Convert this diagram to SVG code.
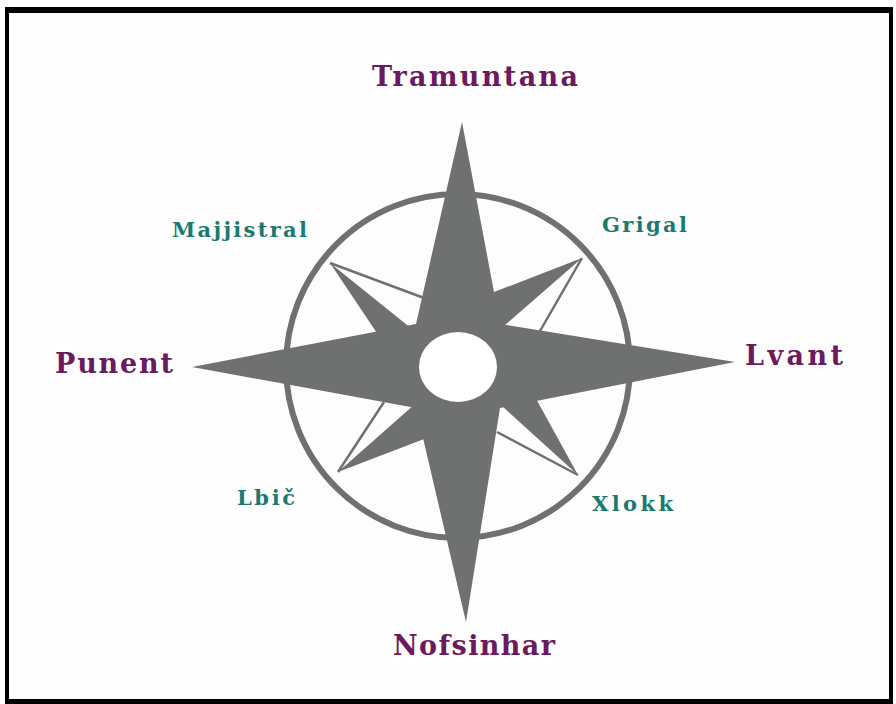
<svg xmlns="http://www.w3.org/2000/svg" width="896" height="704" viewBox="0 0 896 704">
<style>
.big{font-family:"DejaVu Serif","Liberation Serif",serif;font-weight:bold;font-size:27px;fill:#6b1a5e}
.small{font-family:"DejaVu Serif","Liberation Serif",serif;font-weight:bold;font-size:21px;fill:#1b7a70}
.g{fill:#6e7170}
.thin{stroke:#6e7170;stroke-width:2.5;fill:none}
</style>
<rect x="0" y="0" width="896" height="704" fill="#ffffff"/>
<rect x="5" y="7" width="888" height="697" fill="#000000"/>
<rect x="9" y="13" width="880" height="686" fill="#fdfdfd"/>
<g id="rose">
  <circle cx="458" cy="366" r="172" fill="none" stroke="#6e7170" stroke-width="6"/>
  <g id="diagonal-points">
    <polygon class="g" points="330,263 458,366 399,366"/>
    <polygon class="g" points="582,258 458,366 458,306"/>
    <polygon class="g" points="578,475 458,366 518,366"/>
    <polygon class="g" points="338,472 458,366 458,426"/>
  </g>
  <g id="connectors">
    <line class="thin" x1="330" y1="263" x2="424" y2="298"/>
    <line class="thin" x1="582" y1="258" x2="540" y2="331"/>
    <line class="thin" x1="578" y1="475" x2="497" y2="432"/>
    <line class="thin" x1="338" y1="472" x2="384" y2="402"/>
  </g>
  <g id="main-star">
    <polygon class="g" points="462,122 500,324 735,362 500,408 466,622 416,408 192,367 416,324"/>
  </g>
  <ellipse cx="458" cy="367" rx="39" ry="35" fill="#ffffff"/>
</g>
<g id="n-tramuntana"><text class="big" x="372" y="86" textLength="206" lengthAdjust="spacing">Tramuntana</text></g>
<g id="n-punent"><text class="big" x="55" y="373" textLength="118" lengthAdjust="spacing">Punent</text></g>
<g id="n-lvant"><text class="big" x="745" y="365" textLength="98" lengthAdjust="spacing">Lvant</text></g>
<g id="n-nofsinhar"><text class="big" x="393" y="655" textLength="162" lengthAdjust="spacing">Nofsinhar</text></g>
<g id="n-majjistral"><text class="small" x="172" y="237" textLength="135" lengthAdjust="spacing">Majjistral</text></g>
<g id="n-grigal"><text class="small" x="602" y="232" textLength="85" lengthAdjust="spacing">Grigal</text></g>
<g id="n-lbic"><text class="small" x="237" y="505" textLength="58" lengthAdjust="spacing">Lbič</text></g>
<g id="n-xlokk"><text class="small" x="592" y="511" textLength="81" lengthAdjust="spacing">Xlokk</text></g>
</svg>
